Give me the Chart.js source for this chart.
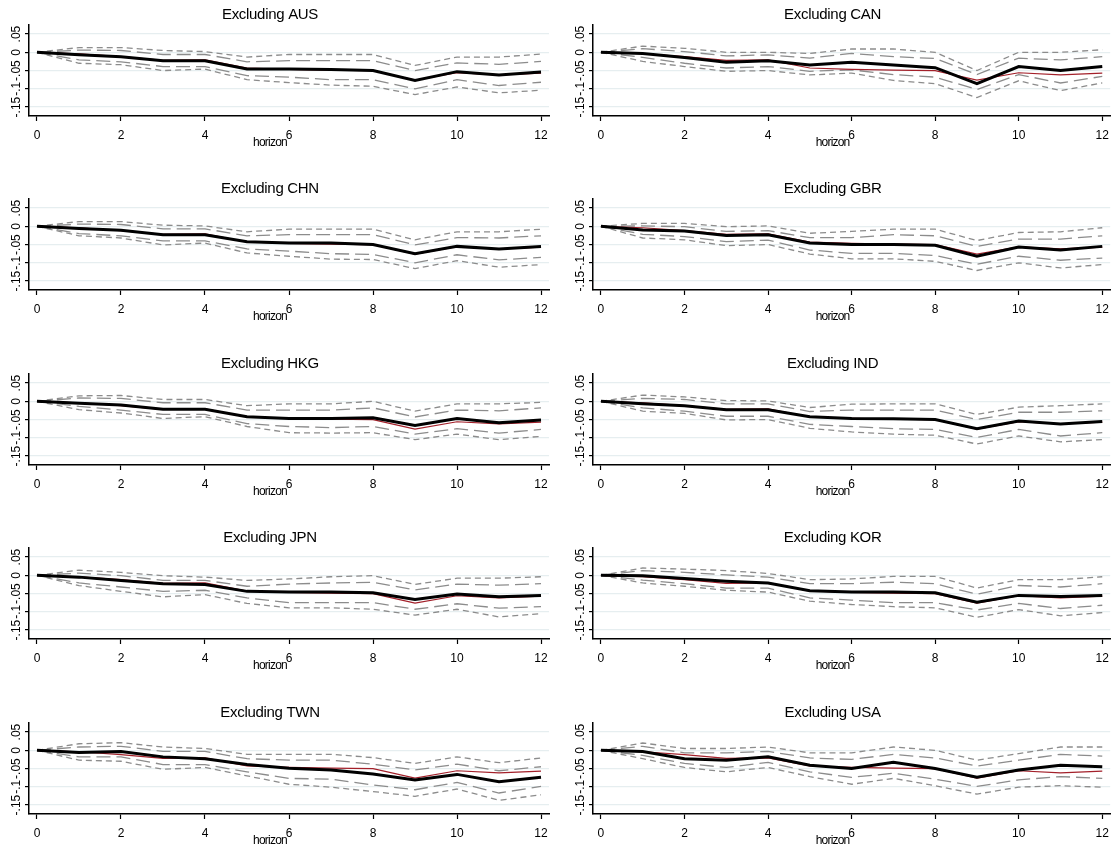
<!DOCTYPE html>
<html>
<head>
<meta charset="utf-8">
<title>Excluding one country at a time</title>
<script src="https://cdn.jsdelivr.net/npm/chart.js@4.4.1/dist/chart.umd.min.js"></script>
<style>
  html, body { margin: 0; padding: 0; background: #fff; overflow: hidden; }
  #grid { position: relative; width: 1116px; height: 852px; }
  #grid canvas { position: absolute; }
</style>
</head>
<body>
<div id="grid"></div>
<script>
// panels, in reading order
const countries = ['AUS', 'CAN', 'CHN', 'GBR', 'HKG', 'IND', 'JPN', 'KOR', 'TWN', 'USA'];
const horizons = [0, 1, 2, 3, 4, 5, 6, 7, 8, 9, 10, 11, 12];
const xTicks = [0, 2, 4, 6, 8, 10, 12];
const yTicks = [-0.15, -0.1, -0.05, 0, 0.05];
const yTickLabels = ['-.15', '-.1', '-.05', '0', '.05'];
const xTitle = 'horizon';

// full-sample response, same in every panel
const baseline = [0, -0.004, -0.012, -0.022, -0.021, -0.043, -0.047, -0.049, -0.05, -0.076, -0.056, -0.062, -0.057];

// response with one country dropped
const estimate = {
    AUS: [0, -0.007, -0.012, -0.023, -0.023, -0.046, -0.046, -0.047, -0.05, -0.077, -0.053, -0.062, -0.054],
    CAN: [0, -0.003, -0.014, -0.027, -0.023, -0.035, -0.027, -0.035, -0.042, -0.086, -0.039, -0.05, -0.039],
    CHN: [0, -0.006, -0.011, -0.023, -0.023, -0.042, -0.046, -0.046, -0.05, -0.075, -0.055, -0.062, -0.055],
    GBR: [0, -0.01, -0.013, -0.025, -0.023, -0.046, -0.05, -0.05, -0.052, -0.082, -0.057, -0.065, -0.055],
    HKG: [0, -0.005, -0.01, -0.022, -0.022, -0.042, -0.047, -0.047, -0.045, -0.066, -0.047, -0.059, -0.051],
    IND: [0, -0.007, -0.012, -0.023, -0.023, -0.042, -0.047, -0.048, -0.05, -0.075, -0.054, -0.062, -0.055],
    JPN: [0, -0.005, -0.014, -0.023, -0.025, -0.044, -0.046, -0.046, -0.048, -0.066, -0.051, -0.059, -0.055],
    KOR: [0, -0.001, -0.009, -0.016, -0.021, -0.042, -0.046, -0.046, -0.048, -0.074, -0.055, -0.058, -0.055],
    TWN: [0, -0.006, -0.003, -0.018, -0.023, -0.039, -0.049, -0.054, -0.065, -0.081, -0.066, -0.086, -0.074],
    USA: [0, -0.003, -0.023, -0.027, -0.018, -0.041, -0.05, -0.033, -0.05, -0.074, -0.054, -0.041, -0.045]
};

// wide band (short dash)
const outerHi = {
    AUS: [0, 0.013, 0.013, 0.005, 0.002, -0.013, -0.006, -0.006, -0.006, -0.036, -0.013, -0.013, -0.005],
    CAN: [0, 0.017, 0.011, 0, 0, -0.003, 0.009, 0.009, 0, -0.05, 0, 0, 0.007],
    CHN: [0, 0.013, 0.013, 0.003, 0.001, -0.015, -0.008, -0.008, -0.008, -0.037, -0.015, -0.015, -0.008],
    GBR: [0, 0.008, 0.008, -0.001, 0.001, -0.019, -0.014, -0.008, -0.008, -0.039, -0.017, -0.015, -0.004],
    HKG: [0, 0.015, 0.016, 0.005, 0.005, -0.012, -0.007, -0.007, 0, -0.027, -0.007, -0.007, -0.003],
    IND: [0, 0.017, 0.012, 0.002, 0.001, -0.017, -0.008, -0.007, -0.007, -0.036, -0.016, -0.012, -0.007],
    JPN: [0, 0.014, 0.008, -0.001, -0.005, -0.014, -0.01, -0.004, -0.001, -0.025, -0.008, -0.008, -0.004],
    KOR: [0, 0.02, 0.017, 0.013, 0.005, -0.012, -0.01, -0.003, -0.003, -0.035, -0.012, -0.012, -0.004],
    TWN: [0, 0.018, 0.021, 0.009, 0.005, -0.011, -0.011, -0.011, -0.02, -0.036, -0.018, -0.034, -0.021],
    USA: [0, 0.02, 0.005, 0.005, 0.009, -0.007, -0.007, 0.009, 0, -0.027, -0.009, 0.009, 0.009]
};
const outerLo = {
    AUS: [0, -0.03, -0.034, -0.05, -0.046, -0.075, -0.083, -0.09, -0.093, -0.116, -0.095, -0.111, -0.104],
    CAN: [0, -0.025, -0.039, -0.052, -0.05, -0.062, -0.057, -0.077, -0.086, -0.124, -0.078, -0.105, -0.084],
    CHN: [0, -0.026, -0.032, -0.051, -0.046, -0.073, -0.082, -0.09, -0.091, -0.116, -0.094, -0.112, -0.105],
    GBR: [0, -0.032, -0.037, -0.053, -0.05, -0.076, -0.089, -0.089, -0.096, -0.121, -0.1, -0.114, -0.105],
    HKG: [0, -0.023, -0.032, -0.047, -0.042, -0.069, -0.086, -0.087, -0.086, -0.105, -0.09, -0.105, -0.096],
    IND: [0, -0.027, -0.033, -0.051, -0.05, -0.074, -0.084, -0.09, -0.093, -0.117, -0.095, -0.111, -0.105],
    JPN: [0, -0.028, -0.044, -0.059, -0.053, -0.077, -0.089, -0.089, -0.093, -0.109, -0.093, -0.114, -0.105],
    KOR: [0, -0.021, -0.03, -0.041, -0.046, -0.071, -0.08, -0.086, -0.089, -0.115, -0.094, -0.111, -0.102],
    TWN: [0, -0.027, -0.03, -0.052, -0.047, -0.07, -0.093, -0.101, -0.113, -0.126, -0.106, -0.137, -0.122],
    USA: [0, -0.023, -0.047, -0.059, -0.047, -0.072, -0.093, -0.077, -0.097, -0.12, -0.101, -0.097, -0.101]
};

// narrow band (long dash)
const innerHi = {
    AUS: [0, 0.006, 0.005, -0.006, -0.006, -0.026, -0.023, -0.023, -0.023, -0.05, -0.029, -0.033, -0.025],
    CAN: [0, 0.01, 0.002, -0.01, -0.007, -0.016, -0.003, -0.012, -0.017, -0.061, -0.016, -0.021, -0.012],
    CHN: [0, 0.006, 0.005, -0.007, -0.007, -0.026, -0.023, -0.023, -0.023, -0.051, -0.031, -0.032, -0.026],
    GBR: [0, 0.001, -0.001, -0.014, -0.012, -0.031, -0.031, -0.023, -0.026, -0.055, -0.035, -0.035, -0.026],
    HKG: [0, 0.009, 0.008, -0.004, -0.004, -0.024, -0.024, -0.024, -0.018, -0.043, -0.024, -0.026, -0.018],
    IND: [0, 0.008, 0.005, -0.007, -0.007, -0.028, -0.024, -0.024, -0.024, -0.05, -0.03, -0.03, -0.026],
    JPN: [0, 0.006, -0.001, -0.014, -0.014, -0.03, -0.024, -0.021, -0.019, -0.04, -0.024, -0.027, -0.023],
    KOR: [0, 0.013, 0.008, 0.001, -0.005, -0.023, -0.023, -0.019, -0.023, -0.052, -0.028, -0.032, -0.023],
    TWN: [0, 0.009, 0.011, -0.003, -0.003, -0.023, -0.027, -0.027, -0.038, -0.054, -0.038, -0.056, -0.045],
    USA: [0, 0.011, -0.007, -0.007, -0.003, -0.021, -0.025, -0.011, -0.021, -0.043, -0.027, -0.011, -0.016]
};
const innerLo = {
    AUS: [0, -0.021, -0.026, -0.039, -0.039, -0.064, -0.068, -0.075, -0.075, -0.1, -0.075, -0.091, -0.082],
    CAN: [0, -0.014, -0.03, -0.043, -0.039, -0.052, -0.048, -0.061, -0.068, -0.102, -0.061, -0.084, -0.066],
    CHN: [0, -0.02, -0.026, -0.04, -0.04, -0.062, -0.068, -0.075, -0.077, -0.1, -0.078, -0.092, -0.085],
    GBR: [0, -0.022, -0.028, -0.042, -0.038, -0.065, -0.074, -0.074, -0.08, -0.104, -0.082, -0.093, -0.087],
    HKG: [0, -0.014, -0.024, -0.036, -0.036, -0.061, -0.069, -0.072, -0.069, -0.09, -0.075, -0.087, -0.077],
    IND: [0, -0.018, -0.027, -0.041, -0.041, -0.063, -0.069, -0.075, -0.077, -0.099, -0.077, -0.095, -0.086],
    JPN: [0, -0.021, -0.032, -0.044, -0.041, -0.062, -0.075, -0.075, -0.075, -0.093, -0.078, -0.09, -0.086],
    KOR: [0, -0.013, -0.023, -0.035, -0.035, -0.062, -0.068, -0.075, -0.075, -0.095, -0.077, -0.091, -0.082],
    TWN: [0, -0.018, -0.018, -0.039, -0.039, -0.059, -0.077, -0.079, -0.095, -0.108, -0.088, -0.117, -0.099],
    USA: [0, -0.014, -0.036, -0.047, -0.033, -0.059, -0.074, -0.063, -0.079, -0.099, -0.081, -0.072, -0.077]
};

const FONT = "'Liberation Sans', Arial, sans-serif";
const PANEL_H = 154;
const ROW_STEP = 174.45;

// panel title, x-axis title and rotated y tick labels, placed from the chart area and y scale
const panelText = {
    id: 'panelText',
    afterDraw(chart, args, opts) {
        const ctx = chart.ctx;
        const area = chart.chartArea;
        const y = chart.scales.y;
        const midX = (area.left + area.right) / 2 - 19;
        ctx.save();
        ctx.fillStyle = '#000';
        ctx.textAlign = 'center';
        ctx.textBaseline = 'middle';

        ctx.font = '15px ' + FONT;
        ctx.letterSpacing = '-0.3px';
        ctx.fillText(opts.text, midX, area.top - 10);

        ctx.font = '12px ' + FONT;
        ctx.letterSpacing = '-0.8px';
        ctx.fillText(xTitle, midX, area.bottom + 27);

        ctx.letterSpacing = '0px';
        yTicks.forEach((v, i) => {
            ctx.save();
            ctx.translate(area.left - 12, y.getPixelForValue(v));
            ctx.rotate(-Math.PI / 2);
            ctx.fillText(yTickLabels[i], 0, 0);
            ctx.restore();
        });
        ctx.restore();
    }
};

function points(values) {
    return horizons.map((h, i) => ({ x: h, y: values[i] }));
}

function dashed(values, dash) {
    return {
        data: points(values),
        borderColor: '#8c8c8c',
        borderWidth: 1.3,
        borderDash: dash
    };
}

document.addEventListener('DOMContentLoaded', () => {
    const grid = document.getElementById('grid');

    countries.forEach((code, k) => {
        const col = k % 2;
        const row = Math.floor(k / 2);
        const canvas = document.createElement('canvas');
        canvas.width = col === 0 ? 556 : 560;
        canvas.height = PANEL_H;
        canvas.style.left = (col === 0 ? 0 : 556) + 'px';
        canvas.style.top = Math.round(row * ROW_STEP) + 'px';
        grid.appendChild(canvas);

        new Chart(canvas, {
            type: 'line',
            data: {
                datasets: [
                    { data: points(estimate[code]), borderColor: '#000', borderWidth: 3 },
                    { data: points(baseline), borderColor: '#a3202a', borderWidth: 1.2 },
                    dashed(innerHi[code], [14, 6]),
                    dashed(innerLo[code], [14, 6]),
                    dashed(outerHi[code], [6, 4]),
                    dashed(outerLo[code], [6, 4])
                ]
            },
            options: {
                responsive: false,
                animation: false,
                events: [],
                elements: { point: { radius: 0 }, line: { tension: 0, fill: false } },
                layout: { padding: { left: col === 0 ? 9 : 17, right: col === 0 ? 7 : 4, top: 25, bottom: 3 } },
                plugins: {
                    legend: { display: false },
                    tooltip: { enabled: false },
                    title: { display: false },
                    panelText: { text: 'Excluding ' + code }
                },
                scales: {
                    x: {
                        type: 'linear',
                        min: -0.19,
                        max: 12.19,
                        afterBuildTicks: s => { s.ticks = xTicks.map(v => ({ value: v })); },
                        afterFit: s => { s.height = 35; },
                        border: { display: true, color: '#000', width: 1.5 },
                        grid: { drawOnChartArea: false, tickColor: '#000', tickLength: 5, tickWidth: 1.2 },
                        ticks: { color: '#000', padding: 7, maxRotation: 0, font: { family: FONT, size: 12 } }
                    },
                    y: {
                        min: -0.1745,
                        max: 0.0748,
                        afterBuildTicks: s => { s.ticks = yTicks.map(v => ({ value: v })); },
                        afterFit: s => { s.width = 20; },
                        border: { display: true, color: '#000', width: 1.5 },
                        grid: { color: '#e6eef0', lineWidth: 1.2, tickColor: '#000', tickLength: 4, tickWidth: 1.2 },
                        ticks: { display: false }
                    }
                }
            },
            plugins: [panelText]
        });
    });
});
</script>
</body>
</html>
